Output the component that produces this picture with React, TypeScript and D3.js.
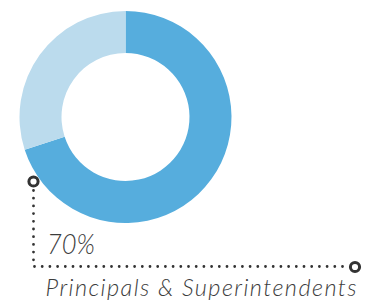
import React from "react";
import * as d3 from "d3";

const categories = ["Principals & Superintendents", "Other"];
const values = [70, 30];
const colors = ["#56addd", "#bbdbed"];
const valueLabel = "70%";

const W = 368;
const H = 300;
const cx = 125.5;
const cy = 117;
const outerR = 106;
const innerR = 64;

export default function App() {
  const pie = d3.pie<number>().sort(null).value((d) => d);
  const arcs = pie(values);
  const arcGen = d3.arc<d3.PieArcDatum<number>>().innerRadius(innerR).outerRadius(outerR);

  const mx = 33.5;
  const my = 181.5;
  const ly = 266.5;
  const ex = 355;

  return (
    <svg width={W} height={H} style={{ position: "absolute", left: 0, top: 0 }}>
      <g transform={`translate(${cx},${cy})`}>
        {arcs.map((a, i) => (
          <path key={categories[i]} d={arcGen(a) || ""} fill={colors[i]} />
        ))}
      </g>
      <path
        d={`M${mx},${my + 9} L${mx},${ly} L${ex - 6},${ly}`}
        fill="none"
        stroke="#333"
        strokeWidth={2.8}
        strokeLinecap="round"
        strokeDasharray="0 7.7"
      />
      <circle cx={mx} cy={my} r={4.6} fill="#fff" stroke="#333" strokeWidth={3} />
      <circle cx={ex} cy={ly + 0.5} r={4.6} fill="#fff" stroke="#333" strokeWidth={3} />
      <text
        x={47}
        y={253.5}
        fontFamily="Lato"
        fontStyle="italic"
        fontWeight={300}
        fontSize={27.5}
        fill="#3c3c3c"
        textLength={48}
        lengthAdjust="spacingAndGlyphs"
      >
        {valueLabel}
      </text>
      <text
        x={45.5}
        y={296}
        fontFamily="Lato"
        fontStyle="italic"
        fontWeight={300}
        fontSize={23.5}
        fill="#3c3c3c"
        textLength={311}
        lengthAdjust="spacing"
      >
        {categories[0]}
      </text>
    </svg>
  );
}
